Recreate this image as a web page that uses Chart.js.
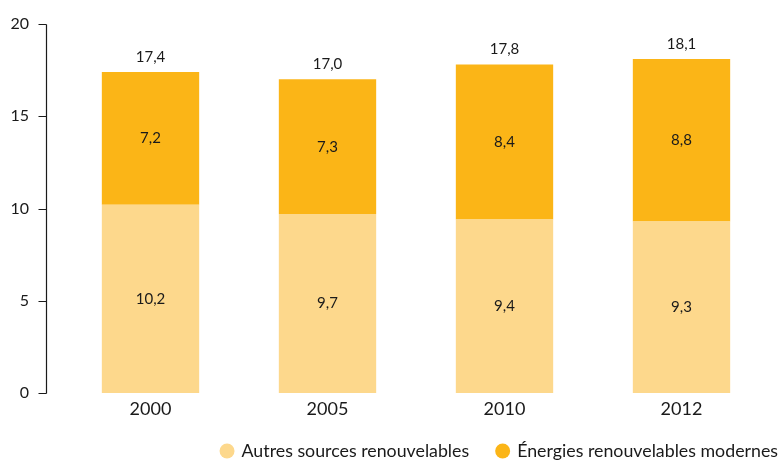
<!DOCTYPE html>
<html><head><meta charset="utf-8">
<script src="https://cdn.jsdelivr.net/npm/chart.js@4"></script>
<style>html,body{margin:0;padding:0;background:#fff}#w{width:780px;height:460px}</style>
</head><body><div id="w"><canvas id="c" width="780" height="460"></canvas></div>
<script>
const categories = ['2000', '2005', '2010', '2012'];
const autres = [10.2, 9.7, 9.4, 9.3];
const modernes = [7.2, 7.3, 8.4, 8.8];
const totals = [17.4, 17.0, 17.8, 18.1];
const seriesNames = ['Autres sources renouvelables', 'Énergies renouvelables modernes'];
const seriesColors = ['#FDD88C', '#FBB517'];
const yTicks = [0, 5, 10, 15, 20];

const FONT = 'Lato';
const INK = '#1a1a1a';
const fmt = v => v.toFixed(1).replace('.', ',');

const labelsPlugin = {
  id: 'labels',
  afterDatasetsDraw(chart) {
    const ctx = chart.ctx;
    ctx.save();
    ctx.fillStyle = INK;
    ctx.font = '15px ' + FONT;
    ctx.textAlign = 'center';
    ctx.textBaseline = 'middle';
    chart.data.datasets.forEach((ds, di) => {
      const meta = chart.getDatasetMeta(di);
      meta.data.forEach((bar, i) => {
        const p = bar.getProps(['x', 'y', 'base'], true);
        ctx.fillText(fmt(ds.data[i]), p.x, (p.y + p.base) / 2);
        if (di === chart.data.datasets.length - 1) {
          ctx.fillText(fmt(totals[i]), p.x, p.y - 15);
        }
      });
    });
    ctx.restore();
  }
};

const axisPlugin = {
  id: 'yaxisline',
  afterDraw(chart) {
    const ctx = chart.ctx, y = chart.scales.y;
    const x = Math.round(chart.chartArea.left - 16) + 0.5;
    ctx.save();
    ctx.strokeStyle = INK;
    ctx.lineWidth = 1.2;
    ctx.beginPath();
    ctx.moveTo(x, Math.round(y.getPixelForValue(yTicks[yTicks.length - 1])) + 0.5);
    ctx.lineTo(x, Math.round(y.getPixelForValue(yTicks[0])) + 0.5);
    yTicks.forEach(t => {
      const py = Math.round(y.getPixelForValue(t)) + 0.5;
      ctx.moveTo(x - 8, py);
      ctx.lineTo(x, py);
    });
    ctx.stroke();
    ctx.restore();
  }
};

const legendPlugin = {
  id: 'customLegend',
  afterDraw(chart) {
    const ctx = chart.ctx;
    const cy = chart.height - 9;
    const r = 7.5, gapText = 7, gapItem = 26;
    ctx.save();
    ctx.font = '17.8px ' + FONT;
    ctx.textBaseline = 'middle';
    ctx.textAlign = 'left';
    let xEnd = chart.width - 2;
    for (let i = chart.data.datasets.length - 1; i >= 0; i--) {
      const ds = chart.data.datasets[i];
      const w = ctx.measureText(ds.label).width;
      const tx = xEnd - w;
      ctx.fillStyle = INK;
      ctx.fillText(ds.label, tx, cy);
      ctx.fillStyle = ds.backgroundColor;
      ctx.beginPath();
      ctx.arc(tx - gapText - r, cy, r, 0, Math.PI * 2);
      ctx.fill();
      xEnd = tx - gapText - 2 * r - gapItem;
    }
    ctx.restore();
  }
};

new Chart(document.getElementById('c'), {
  type: 'bar',
  data: {
    labels: categories,
    datasets: [
      { label: seriesNames[0], data: autres, backgroundColor: seriesColors[0], borderWidth: 0 },
      { label: seriesNames[1], data: modernes, backgroundColor: seriesColors[1], borderWidth: 0 }
    ]
  },
  options: {
    responsive: false,
    animation: false,
    layout: { padding: { top: 24, right: 10, left: 0, bottom: 39 } },
    plugins: {
      legend: { display: false },
      tooltip: { enabled: false }
    },
    scales: {
      x: {
        stacked: true,
        grid: { display: false, drawTicks: true, tickLength: 5 },
        border: { display: false },
        ticks: { color: INK, font: { family: FONT, size: 18 }, padding: 0 },
        afterFit: s => { s.height = 28; }
      },
      y: {
        stacked: true,
        min: 0, max: 20,
        afterBuildTicks: s => { s.ticks = yTicks.map(v => ({ value: v })); },
        grid: { display: false, drawTicks: true, tickLength: 33 },
        border: { display: false },
        ticks: { color: INK, font: { family: FONT, size: 16 }, padding: 0 },
        afterFit: s => { s.width = 62; }
      }
    },
    datasets: { bar: { barPercentage: 0.55, categoryPercentage: 1 } }
  },
  plugins: [labelsPlugin, axisPlugin, legendPlugin]
});
</script></body></html>
